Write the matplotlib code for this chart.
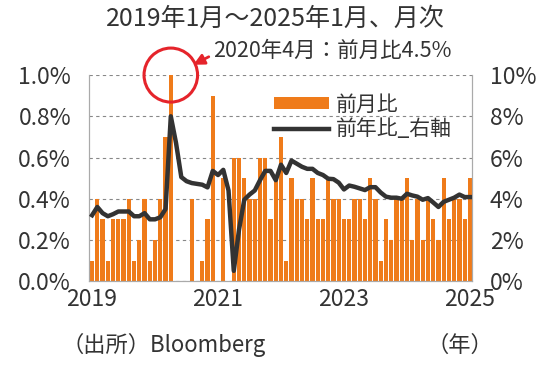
import numpy as np
import matplotlib
matplotlib.use("Agg")
import matplotlib.pyplot as plt
from matplotlib.patches import Ellipse, Patch
from matplotlib.lines import Line2D

plt.rcParams['font.family'] = ['Noto Sans CJK JP', 'DejaVu Sans']

###############################################################################
# Data (monthly, Jan 2019 - Jan 2025)
# -----------------------------------
# month-on-month change, % (left axis)
mom = [0.1, 0.4, 0.3, 0.1, 0.3, 0.3, 0.3, 0.4, 0.1, 0.2, 0.4, 0.1,
       0.2, 0.4, 0.7, 4.5, -1.0, -1.2, 0.0, 0.4, 0.0, 0.1, 0.3, 0.9,
       0.0, 0.5, -0.1, 0.6, 0.6, 0.5, 0.4, 0.4, 0.6, 0.6, 0.3, 0.5,
       0.7, 0.1, 0.5, 0.4, 0.4, 0.3, 0.5, 0.3, 0.3, 0.5, 0.4, 0.4,
       0.3, 0.3, 0.4, 0.4, 0.3, 0.5, 0.4, 0.1, 0.3, 0.2, 0.4, 0.4,
       0.5, 0.2, 0.4, 0.2, 0.4, 0.3, 0.2, 0.5, 0.3, 0.4, 0.4, 0.3,
       0.5]
# year-on-year change, % (right axis)
yoy = [3.2, 3.6, 3.3, 3.15, 3.25, 3.38, 3.38, 3.38, 3.15, 3.15, 3.3, 3.0,
       3.0, 3.1, 3.5, 8.0, 6.7, 5.05, 4.85, 4.76, 4.72, 4.68, 4.55, 5.35,
       5.15, 5.4, 4.4, 0.5, 2.5, 3.95, 4.2, 4.4, 4.9, 5.35, 5.35, 4.9,
       5.65, 5.25, 5.85, 5.7, 5.55, 5.45, 5.45, 5.25, 5.15, 4.97, 4.95, 4.78,
       4.45, 4.64, 4.58, 4.5, 4.42, 4.56, 4.56, 4.3, 4.1, 4.05, 4.05, 4.0,
       4.24, 4.16, 4.1, 3.95, 4.03, 3.82, 3.6, 3.85, 3.95, 4.05, 4.2, 4.08,
       4.08]
year_ticks = [0, 24, 48, 72]
year_labels = ["2019", "2021", "2023", "2025"]
left_ticks = [0.0, 0.2, 0.4, 0.6, 0.8, 1.0]
right_ticks = [0, 2, 4, 6, 8, 10]

x = np.arange(len(mom))

color_bar = '#EF7B1A'
color_line = '#333333'
color_red = '#E5242B'
color_text = '#333333'
tick_size = 16.5

###############################################################################
# Figure
# ------
fig = plt.figure(figsize=(5.5, 3.68), dpi=100)
ax = fig.add_axes([0.162, 0.236, 0.696, 0.56])

ax.bar(x, mom, width=0.8, color=color_bar, zorder=2)
ax.set_xlim(-0.57, 72.38)
ax.set_ylim(0, 1.0)
ax.set_yticks(left_ticks)
ax.set_yticklabels(["%.1f%%" % v for v in left_ticks])
ax.set_xticks(year_ticks)
ax.set_xticklabels(year_labels)
ax.grid(axis='y', color='#888888', linestyle=(0, (3, 3)), linewidth=0.8, zorder=0)
ax.set_axisbelow(True)
ax.tick_params(axis='y', length=0, pad=13, labelsize=tick_size, colors=color_text)
ax.tick_params(axis='x', length=0, pad=5, labelsize=tick_size, colors=color_text)
for side in ['left', 'right', 'bottom']:
    ax.spines[side].set_color('#AAAAAA')
ax.spines['top'].set_visible(False)

ax2 = ax.twinx()
ax2.plot(x, yoy, color=color_line, linewidth=3.2, solid_joinstyle='round', zorder=3)
ax2.set_ylim(0, 10)
ax2.set_yticks(right_ticks)
ax2.set_yticklabels(["%d%%" % v for v in right_ticks])
ax2.tick_params(axis='y', length=0, pad=13, labelsize=tick_size, colors=color_text)
for side in ['left', 'right', 'bottom']:
    ax2.spines[side].set_color('#AAAAAA')
ax2.spines['top'].set_visible(False)

handles = [Patch(facecolor=color_bar, edgecolor='none'),
           Line2D([], [], color=color_line, linewidth=3.2)]
leg = ax2.legend(handles, ["前月比", "前年比_右軸"], loc='upper left',
                 bbox_to_anchor=(0.46, 0.95), frameon=False, fontsize=15,
                 handlelength=2.65, handleheight=0.5, handletextpad=0.35,
                 labelspacing=0.12, borderaxespad=0)
for t in leg.get_texts():
    t.set_color(color_text)

# red circle around the April 2020 spike
circle = Ellipse((15, 1.0), width=10.2, height=0.262, transform=ax.transData,
                 fill=False, edgecolor=color_red, linewidth=2.2, clip_on=False, zorder=5)
ax.add_patch(circle)
ax.annotate("2020年4月：前月比4.5%", xy=(19.3, 1.05), xytext=(23.0, 1.115),
            textcoords='data', ha='left', va='center', fontsize=15.5, color=color_text,
            annotation_clip=False,
            arrowprops=dict(arrowstyle='-|>', color=color_red, lw=2.0,
                            mutation_scale=16, shrinkA=1, shrinkB=0, relpos=(0, 0.35)))

fig.text(0.5, 0.948, "2019年1月～2025年1月、月次", ha='center', va='center',
         fontsize=18, color=color_text)
fig.text(0.112, 0.062, "（出所）Bloomberg", ha='left', va='center',
         fontsize=16, color=color_text)
fig.text(0.775, 0.062, "（年）", ha='left', va='center',
         fontsize=16, color=color_text)

fig.savefig("out.png", dpi=100)
